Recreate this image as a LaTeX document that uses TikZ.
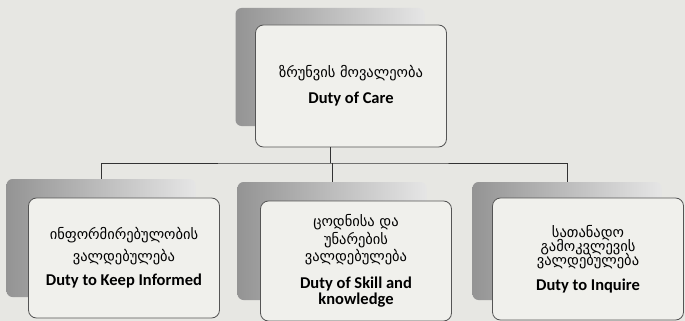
\documentclass[tikz,border=0pt]{standalone}
\usepackage{fontspec}
\setmainfont{Carlito}
\newfontfamily\geofont{DejaVu Sans}
\definecolor{paper}{RGB}{231,231,227}
\definecolor{cardfill}{RGB}{240,240,236}
\definecolor{cardline}{RGB}{85,85,85}
\tikzset{
  backbox/.style={rectangle, rounded corners=6pt, minimum width=189pt, minimum height=118pt,
    left color=black!42, right color=black!10, draw=none},
  frontbox/.style={rectangle, rounded corners=8pt, minimum width=191pt, minimum height=120pt,
    fill=cardfill, draw=cardline, line width=0.8pt, align=center, inner sep=4pt,
    font=\fontsize{15}{17}\selectfont},
  bus/.style={draw=black!80, line width=1pt}
}
\newcommand{\geo}[1]{{\geofont\fontsize{14.5}{17}\selectfont #1}}
\newcommand{\eng}[1]{{\fontsize{16.5}{17}\selectfont\bfseries #1}}
\begin{document}
\begin{tikzpicture}[x=1pt, y=-1pt]
    % Paper
    \fill[paper] (0,0) rectangle (685,321);
    \useasboundingbox (0,0) rectangle (685,321);
    % Top card
    \node[backbox] (careS) at (330,67) {};
    \node[frontbox, minimum height=122pt] (care) at (351,86)
        {\geo{ზრუნვის მოვალეობა}\\[9pt] \eng{Duty of Care}};
    % Bus line
    \coordinate (bus) at (0,163);
    \draw[bus] (careS.south |- care.south) -- (careS.south |- bus);
    % Lower cards (shadows first)
    \node[backbox] (informS) at (101,238) {};
    \node[backbox] (skillS) at (332,241) {};
    \node[backbox] (inquireS) at (567,241) {};
    \draw[bus] (informS.north) |- (skillS.north |- bus) -| (inquireS.north);
    \draw[bus] (skillS.north) -- (skillS.north |- bus);
    % Duty to keep informed
    \node[frontbox] (inform) at (124,258)
        {\geo{ინფორმირებულობის}\\[5pt] \geo{ვალდებულება}\\[7pt] \eng{Duty to Keep Informed}};
    % Duty of skill
    \node[frontbox] (skill) at (356,261)
        {\geo{ცოდნისა და}\\[1pt] \geo{უნარების}\\ \geo{ვალდებულება}\\[10pt]
         \eng{Duty of Skill and}\\[-1pt] \eng{knowledge}};
    % Duty to inquire
    \node[frontbox, minimum height=122pt] (inquire) at (588,259)
        {\geo{სათანადო}\\[-3pt] \geo{გამოკვლევის}\\[-3pt] \geo{ვალდებულება}\\[8pt] \eng{Duty to Inquire}};
\end{tikzpicture}
\end{document}
